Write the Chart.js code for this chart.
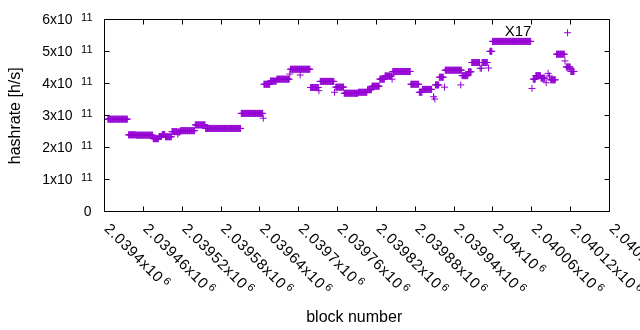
<!DOCTYPE html>
<html><head><meta charset="utf-8">
<script src="https://cdn.jsdelivr.net/npm/chart.js@4/dist/chart.umd.min.js"></script>
<style>html,body{margin:0;padding:0;background:#fff;}canvas{display:block;}</style>
</head><body>
<canvas id="c" width="640" height="330"></canvas>
<script>
// Runs of consecutive blocks sharing one hashrate value
const runStartBlock = [2039406,2039438,2039450,2039476,2039485,2039490,2039495,2039505,2039514,2039515,
  2039518,2039541,2039557,2039612,2039646,2039647,2039657,2039667,2039687,2039688,
  2039703,2039719,2039732,2039734,2039756,2039758,2039771,2039793,2039807,2039814,
  2039826,2039834,2039845,2039846,2039874,2039887,2039892,2039909,2039911,2039912,
  2039918,2039926,2039927,2039951,2039953,2039963,2039968,2039981,2039983,2039984,
  2039994,2039996,2040000,2040061,2040063,2040067,2040075,2040083,2040086,2040088,
  2040090,2040099,2040112,2040114,2040116,2040121];
const runEndBlock = [2039436,2039449,2039475,2039484,2039489,2039494,2039504,2039513,2039514,2039517,
  2039540,2039556,2039611,2039645,2039646,2039656,2039666,2039686,2039687,2039718,
  2039703,2039731,2039732,2039755,2039756,2039770,2039792,2039806,2039813,2039825,
  2039833,2039844,2039845,2039873,2039886,2039891,2039906,2039909,2039911,2039917,
  2039924,2039926,2039952,2039951,2039962,2039967,2039980,2039981,2039983,2039992,
  2039994,2039999,2040059,2040061,2040066,2040074,2040081,2040083,2040086,2040088,
  2040097,2040111,2040112,2040120,2040116,2040126];
const runHashrateE11 = [2.87,2.38,2.37,2.26,2.33,2.39,2.32,2.48,2.40,2.47,
  2.51,2.69,2.58,3.05,2.90,3.96,4.06,4.12,4.28,4.43,
  4.25,3.86,3.76,4.05,3.71,3.87,3.68,3.71,3.79,3.90,
  4.12,4.22,4.12,4.36,3.96,3.71,3.80,3.57,3.50,3.94,
  4.18,3.87,4.40,3.94,4.23,4.35,4.64,4.46,4.46,4.64,
  4.47,4.99,5.30,3.83,4.12,4.23,4.15,4.01,4.30,4.22,
  4.10,4.90,4.69,4.50,5.57,4.36];

const xTickValues = [2039400,2039460,2039520,2039580,2039640,2039700,2039760,2039820,2039880,2039940,2040000,2040060,2040120,2040180];
const xTickMantissa = ["2.0394","2.03946","2.03952","2.03958","2.03964","2.0397","2.03976","2.03982","2.03988","2.03994","2.04","2.04006","2.04012","2.04018"];
const xTickExponent = "6";
const yTickValues = [0,1e11,2e11,3e11,4e11,5e11,6e11];
const yTickMantissa = ["0","1","2","3","4","5","6"];
const yTickExponent = "11";
const labelText = "X17";
const labelBlock = 2040019;
const labelHashrate = 5.594e11;

const points = [];
for (let i = 0; i < runStartBlock.length; i++) {
  for (let b = runStartBlock[i]; b <= runEndBlock[i]; b++) {
    points.push({x: b, y: runHashrateE11[i] * 1e11});
  }
}

const FONT = '"Liberation Sans", Arial, sans-serif';
const decor = {
  id: 'gnuplotDecor',
  afterDraw(chart) {
    const ctx = chart.ctx, a = chart.chartArea;
    const xs = chart.scales.x, ys = chart.scales.y;
    ctx.save();
    ctx.strokeStyle = '#000'; ctx.lineWidth = 1;
    const L = Math.round(a.left) + 0.5, R = Math.round(a.right) + 0.5;
    const T = Math.round(a.top) + 0.5, B = Math.round(a.bottom) + 0.5;
    ctx.beginPath();
    ctx.rect(L, T, R - L, B - T);
    const tl = 5;
    xTickValues.forEach(v => {
      const px = Math.round(xs.getPixelForValue(v)) + 0.5;
      ctx.moveTo(px, B); ctx.lineTo(px, B - tl);
      ctx.moveTo(px, T); ctx.lineTo(px, T + tl);
    });
    yTickValues.forEach(v => {
      const py = Math.round(ys.getPixelForValue(v)) + 0.5;
      ctx.moveTo(L, py); ctx.lineTo(L + tl, py);
      ctx.moveTo(R, py); ctx.lineTo(R - tl, py);
    });
    ctx.stroke();

    ctx.fillStyle = '#000';
    // y tick labels
    yTickValues.forEach((v, i) => {
      const py = ys.getPixelForValue(v);
      ctx.textBaseline = 'alphabetic';
      if (yTickMantissa[i] === "0") {
        ctx.font = '14px ' + FONT; ctx.textAlign = 'right';
        ctx.fillText("0", 91.5, py + 4.8);
      } else {
        ctx.font = '14px ' + FONT; ctx.textAlign = 'right';
        ctx.fillText(yTickMantissa[i] + "x10", 72.5, py + 4.5);
        ctx.font = '11px ' + FONT;
        ctx.fillText(yTickExponent, 92.5, py + 2);
      }
    });
    // x tick labels, rotated by 45 degrees
    xTickValues.forEach((v, i) => {
      const px = xs.getPixelForValue(v);
      ctx.save();
      ctx.translate(px - 0.5, 229.5);
      ctx.rotate(Math.PI / 4);
      ctx.textAlign = 'left'; ctx.textBaseline = 'alphabetic';
      ctx.font = '15px ' + FONT;
      try { ctx.letterSpacing = '0.7px'; } catch (e) {}
      const main = xTickMantissa[i] + "x10";
      ctx.fillText(main, 0, 0);
      const w = ctx.measureText(main).width;
      ctx.font = '11px ' + FONT;
      ctx.fillText(xTickExponent, w + 2, -5);
      ctx.restore();
    });
    try { ctx.letterSpacing = '0px'; } catch (e) {}
    // axis titles
    ctx.font = '16px ' + FONT;
    ctx.textAlign = 'center'; ctx.textBaseline = 'alphabetic';
    ctx.fillText('block number', 354.2, 321.7);
    ctx.save();
    ctx.translate(20, 115.8);
    ctx.rotate(-Math.PI / 2);
    ctx.fillText('hashrate [h/s]', 0, 0);
    ctx.restore();
    // label
    ctx.font = '15px ' + FONT;
    ctx.textAlign = 'left'; ctx.textBaseline = 'middle';
    ctx.fillText(labelText, xs.getPixelForValue(labelBlock), ys.getPixelForValue(labelHashrate));
    ctx.restore();
  }
};

new Chart(document.getElementById('c'), {
  type: 'scatter',
  data: { datasets: [{
    data: points,
    pointStyle: 'cross',
    pointRadius: 3.5,
    pointHoverRadius: 3.5,
    borderWidth: 1,
    borderColor: '#9400D3',
    backgroundColor: '#9400D3'
  }]},
  options: {
    responsive: false,
    animation: false,
    devicePixelRatio: 1,
    layout: { padding: { left: 104, right: 31, top: 19, bottom: 119 } },
    plugins: { legend: { display: false }, tooltip: { enabled: false } },
    events: [],
    scales: {
      x: { type: 'linear', display: false, min: 2039400, max: 2040180 },
      y: { type: 'linear', display: false, min: 0, max: 6e11 }
    }
  },
  plugins: [decor]
});
</script>
</body></html>
